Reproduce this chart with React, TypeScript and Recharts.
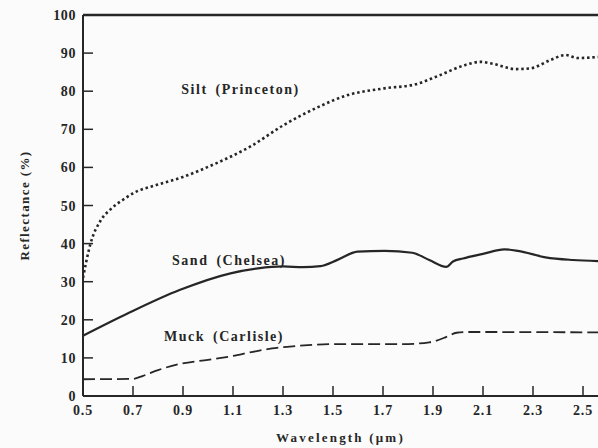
import React from 'react';
import { LineChart, Line, XAxis, YAxis, ReferenceLine, ReferenceDot, Label } from 'recharts';

const siltX = [0.5, 0.53, 0.57, 0.61, 0.66, 0.7, 0.8, 0.9, 1.03, 1.17, 1.3, 1.43, 1.56, 1.7, 1.83, 1.92, 2.03, 2.09, 2.14, 2.23, 2.29, 2.37, 2.43, 2.48, 2.56];
const siltY = [31, 40, 46, 49, 51.5, 53.2, 55.5, 57.5, 61, 65.5, 71, 75.5, 79, 80.7, 81.8, 84, 86.9, 87.7, 87.2, 85.8, 86, 88.2, 89.5, 88.7, 89];

const sandX = [0.5, 0.68, 0.886, 1.09, 1.2, 1.3, 1.38, 1.45, 1.52, 1.598, 1.707, 1.817, 1.885, 1.953, 1.98, 2.02, 2.1, 2.185, 2.24, 2.35, 2.46, 2.56];
const sandY = [15.8, 21.7, 27.8, 32.2, 33.5, 34.0, 33.8, 34.1, 35.8, 37.9, 38.1, 37.6, 35.7, 33.9, 35.3, 36.1, 37.3, 38.5, 38.1, 36.4, 35.7, 35.4];

const muckX = [0.5, 0.7, 0.74, 0.8, 0.886, 1.0, 1.09, 1.18, 1.256, 1.35, 1.5, 1.775, 1.885, 1.95, 1.994, 2.03, 2.56];
const muckY = [4.4, 4.5, 5.3, 6.8, 8.4, 9.5, 10.4, 11.6, 12.5, 13.1, 13.6, 13.6, 14.1, 15.4, 16.6, 16.8, 16.7];

const xTicks = [0.5, 0.7, 0.9, 1.1, 1.3, 1.5, 1.7, 1.9, 2.1, 2.3, 2.5];
const yTicks = [0, 10, 20, 30, 40, 50, 60, 70, 80, 90, 100];

const labelTexts = ['Silt (Princeton)', 'Sand (Chelsea)', 'Muck (Carlisle)'];
const labelX = [1.13, 1.084, 1.064];
const labelY = [80.6, 35.7, 15.7];

const toRows = (xs: number[], ys: number[]) => xs.map((x, i) => ({ x, y: ys[i] }));
const silt = toRows(siltX, siltY);
const sand = toRows(sandX, sandY);
const muck = toRows(muckX, muckY);

const INK = '#262626';
const FONT = '"Liberation Serif", "DejaVu Serif", serif';

const YTick = (props: any) => {
  const { x, y, payload } = props;
  const ax = x + 6;
  return (
    <g>
      {payload.value !== 0 && payload.value !== 100 && (
        <line x1={ax} y1={y} x2={ax + 10} y2={y} stroke={INK} strokeWidth={1.5} />
      )}
      <text x={x - 1} y={y} dy={5} textAnchor="end" fontFamily={FONT} fontWeight="bold" fontSize={14} letterSpacing={0.6} fill={INK}>
        {payload.value}
      </text>
    </g>
  );
};

const XTick = (props: any) => {
  const { x, y, payload } = props;
  const ay = y - 4;
  return (
    <g>
      {payload.value !== 0.5 && (
        <line x1={x} y1={ay} x2={x} y2={ay - 10} stroke={INK} strokeWidth={1.5} />
      )}
      <text x={x} y={y + 15} textAnchor="middle" fontFamily={FONT} fontWeight="bold" fontSize={14} letterSpacing={0.8} fill={INK}>
        {payload.value.toFixed(1)}
      </text>
    </g>
  );
};

const labelStyle = { fontFamily: FONT, fontWeight: 'bold', fontSize: 14, fill: INK, letterSpacing: 1.5, wordSpacing: 3 } as any;

export default function App() {
  return (
    <div style={{ position: 'absolute', left: 0, top: 0, background: '#fbfbfb' }}>
      <LineChart width={598} height={448} margin={{ top: 15, right: 0, left: 0, bottom: 0 }}>
        <XAxis
          type="number"
          dataKey="x"
          domain={[0.5, 2.56]}
          ticks={xTicks}
          allowDataOverflow
          height={52}
          tickSize={0}
          tickMargin={4}
          tick={<XTick />}
          axisLine={{ stroke: INK, strokeWidth: 2 }}
          tickLine={false}
        >
          <Label value="Wavelength (μm)" position="insideBottom" offset={6} style={{ fontFamily: FONT, fontWeight: 'bold', fontSize: 13, fill: INK, letterSpacing: 2.2 } as any} />
        </XAxis>
        <YAxis
          type="number"
          domain={[0, 100]}
          ticks={yTicks}
          width={83}
          tickSize={0}
          tickMargin={6}
          tick={<YTick />}
          axisLine={{ stroke: INK, strokeWidth: 2 }}
          tickLine={false}
        >
          <Label value="Reflectance (%)" angle={-90} position="insideLeft" offset={24} style={{ fontFamily: FONT, fontWeight: 'bold', fontSize: 13, fill: INK, textAnchor: 'middle', letterSpacing: 1.4 } as any} />
        </YAxis>
        <ReferenceLine y={100} stroke={INK} strokeWidth={2.5} />
        <Line data={silt} dataKey="y" type="monotone" stroke={INK} strokeWidth={2.6} strokeDasharray="2.5 2.8" dot={false} isAnimationActive={false} />
        <Line data={sand} dataKey="y" type="monotone" stroke={INK} strokeWidth={2.2} dot={false} isAnimationActive={false} />
        <Line data={muck} dataKey="y" type="monotone" stroke={INK} strokeWidth={1.8} strokeDasharray="12 5" dot={false} isAnimationActive={false} />
        {labelTexts.map((t, i) => (
          <ReferenceDot key={t} x={labelX[i]} y={labelY[i]} r={0} stroke="none" fill="none"
            label={{ value: t, position: 'center', style: labelStyle }} />
        ))}
      </LineChart>
    </div>
  );
}
